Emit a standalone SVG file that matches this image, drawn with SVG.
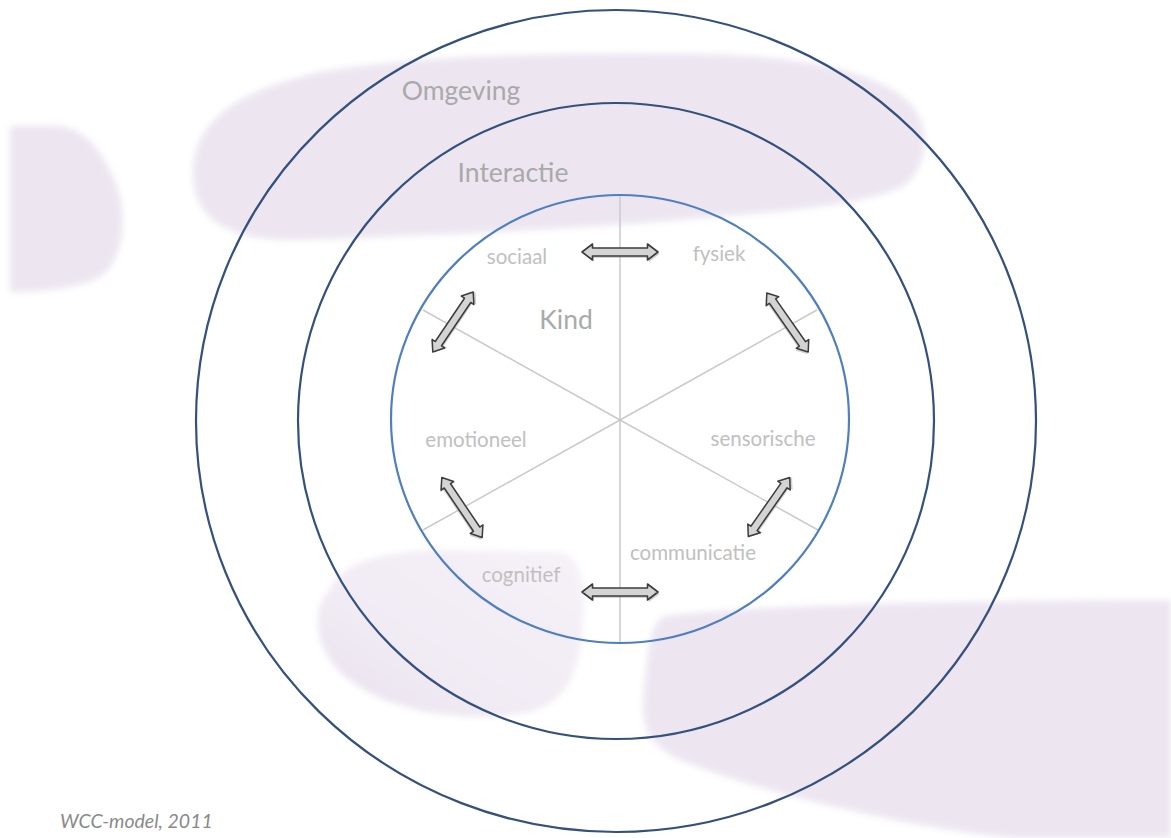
<svg xmlns="http://www.w3.org/2000/svg" width="1171" height="838" viewBox="0 0 1171 838">
<style>
.blob{fill:#ede6f1}
.ring{fill:none;stroke:#34507c;stroke-width:2.2}
.ring-in{fill:none;stroke:#4f7fbf;stroke-width:2.2}
.spoke{stroke:#cacaca;stroke-width:1.5;fill:none}
.title{font-family:Lato,"Liberation Sans",sans-serif;font-size:26.5px;fill:#a9a9a9;text-anchor:middle}
.lbl{font-family:Lato,"Liberation Sans",sans-serif;font-size:20.5px;fill:#c0c0c0;text-anchor:middle}
.cap{font-family:Lato,"Liberation Sans",sans-serif;font-size:19.5px;font-style:italic;fill:#8a8a8a}
.arr{fill:#d4d4d4;stroke:#3c3c3c;stroke-width:1.6;stroke-linejoin:round}
.arr-sh{fill:#9a9a9a;opacity:0.45}
</style>
<defs>
<filter id="soft" x="-10%" y="-10%" width="120%" height="120%"><feGaussianBlur stdDeviation="3"/></filter>
<linearGradient id="fadeBL" x1="1" y1="0" x2="0" y2="1">
<stop offset="0" stop-color="#f6f2f8"/><stop offset="0.6" stop-color="#f1ebf4"/><stop offset="1" stop-color="#e9e1ee"/>
</linearGradient>
<path id="dbl" d="M-38,0 L-27.5,-8 L-27.5,-4 L27.5,-4 L27.5,-8 L38,0 L27.5,8 L27.5,4 L-27.5,4 L-27.5,8 Z"/>
<g id="arrow"><use href="#dbl" class="arr-sh" transform="translate(1.5,2)"/><use href="#dbl" class="arr"/></g>
</defs>
<g id="background" filter="url(#soft)">
<path class="blob" d="M10,126 L55,126 C84,126 104,152 117,186 C128,220 123,256 104,274 C84,289 40,292 10,292 Z"/>
<path class="blob" d="M196,150 C210,110 250,88 320,72 C420,55 560,52 700,54 C800,56 880,70 912,105 C932,130 928,165 905,185 C870,205 780,212 680,220 C560,230 420,236 300,240 C240,242 205,225 196,195 C192,180 192,165 196,150 Z"/>
<path fill="url(#fadeBL)" d="M330,590 C342,560 385,552 440,550 L560,552 C580,556 586,580 583,620 C580,670 570,700 530,712 C490,720 440,718 400,705 C350,690 318,660 318,622 C318,606 322,597 330,590 Z"/>
<path class="blob" d="M665,616 C760,604 1000,600 1171,600 L1171,838 L1010,838 C900,826 760,792 685,762 C645,746 640,722 644,690 C648,650 650,622 665,616 Z"/>
</g>
<g id="omgeving">
<ellipse class="ring" cx="616" cy="421" rx="420" ry="411"/>
<text class="title" x="461" y="100">Omgeving</text>
</g>
<g id="interactie">
<circle class="ring" cx="616" cy="421" r="318"/>
<text class="title" x="513" y="182">Interactie</text>
</g>
<g id="kind">
<g class="spoke">
<line x1="620" y1="195" x2="620" y2="643"/>
<line x1="620" y1="420" x2="423" y2="310"/>
<line x1="620" y1="420" x2="817" y2="310"/>
<line x1="620" y1="420" x2="423" y2="530"/>
<line x1="620" y1="420" x2="818" y2="530"/>
</g>
<ellipse class="ring-in" cx="620" cy="419" rx="229" ry="224"/>
<text class="title" x="566" y="329">Kind</text>
</g>
<g id="sociaal"><text class="lbl" x="517" y="264">sociaal</text></g>
<g id="fysiek"><text class="lbl" x="719" y="261">fysiek</text></g>
<g id="emotioneel"><text class="lbl" x="476" y="447">emotioneel</text></g>
<g id="sensorische"><text class="lbl" x="763" y="446">sensorische</text></g>
<g id="communicatie"><text class="lbl" x="693" y="560">communicatie</text></g>
<g id="cognitief"><text class="lbl" x="521" y="582">cognitief</text></g>
<g id="connectors">
<use href="#arrow" transform="translate(620,252)"/>
<use href="#arrow" transform="translate(620,592)"/>
<use href="#arrow" transform="translate(453,322) rotate(-56) scale(0.95)"/>
<use href="#arrow" transform="translate(787.5,322.5) rotate(55) scale(0.95)"/>
<use href="#arrow" transform="translate(462,507.5) rotate(56) scale(0.95)"/>
<use href="#arrow" transform="translate(769,507) rotate(-55) scale(0.95)"/>
</g>
<text class="cap" x="60" y="828">WCC-model, 2011</text>
</svg>
